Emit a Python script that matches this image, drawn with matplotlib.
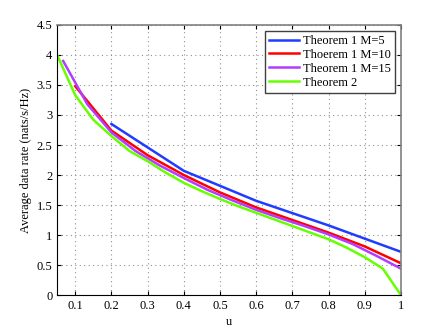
import numpy as np
import matplotlib.pyplot as plt

plt.rcParams['font.family'] = ['Liberation Serif', 'DejaVu Serif']

### Data
u_m5 = [0.2, 0.4, 0.6, 0.8, 1.0]
rate_m5 = [2.85, 2.07, 1.57, 1.16, 0.72]

u_m10 = [0.1, 0.2, 0.3, 0.4, 0.5, 0.6, 0.7, 0.8, 0.9, 1.0]
rate_m10 = [3.48, 2.74, 2.33, 2.00, 1.71, 1.46, 1.25, 1.04, 0.81, 0.53]

u_m15 = [1/15, 2/15, 3/15, 4/15, 5/15, 6/15, 7/15, 8/15, 9/15, 10/15,
         11/15, 12/15, 13/15, 14/15, 1.0]
rate_m15 = [3.90, 3.18, 2.71, 2.40, 2.16, 1.95, 1.75, 1.58, 1.42, 1.28,
            1.15, 1.01, 0.85, 0.65, 0.44]

u_th2 = [0.05, 0.1, 0.15, 0.2, 0.25, 0.3, 0.35, 0.4, 0.45, 0.5,
         0.55, 0.6, 0.65, 0.7, 0.75, 0.8, 0.85, 0.9, 0.95, 1.0]
rate_th2 = [4.0, 3.33, 2.92, 2.65, 2.40, 2.23, 2.04, 1.87, 1.73, 1.60,
            1.48, 1.37, 1.26, 1.15, 1.04, 0.93, 0.79, 0.63, 0.44, 0.0]

labels = ['Theorem 1 M=5', 'Thoerem 1 M=10', 'Theorem 1 M=15', 'Theorem 2']
colors = ['#1f3cff', '#ff0000', '#b23cff', '#66ff00']

### Plot
fig = plt.figure(figsize=(4.43, 3.33), dpi=100)
ax = fig.add_axes([0.129, 0.114, 0.776, 0.811])

ax.plot(u_m5, rate_m5, color=colors[0], lw=1.8, label=labels[0])
ax.plot(u_m10, rate_m10, color=colors[1], lw=1.8, label=labels[1])
ax.plot(u_m15, rate_m15, color=colors[2], lw=1.8, label=labels[2])
ax.plot(u_th2, rate_th2, color=colors[3], lw=1.8, label=labels[3])

ax.set_xlim(0.05, 1.0)
ax.set_ylim(0, 4.5)
ax.set_xticks(np.arange(0.1, 1.01, 0.1))
ax.set_xticklabels(['0.1', '0.2', '0.3', '0.4', '0.5', '0.6', '0.7', '0.8', '0.9', '1'])
ax.set_yticks(np.arange(0, 4.51, 0.5))
ax.set_yticklabels(['0', '0.5', '1', '1.5', '2', '2.5', '3', '3.5', '4', '4.5'])
ax.tick_params(direction='in', top=True, right=True, labelsize=9, length=3)
ax.grid(True, linestyle=(0, (1, 3)), color='#909090', lw=0.8)
for side in ['top', 'right']:
    ax.spines[side].set_color('#808080')
    ax.spines[side].set_linewidth(1.2)
ax.set_xlabel('u', fontsize=9, labelpad=3)
ax.set_ylabel('Average data rate (nats/s/Hz)', fontsize=9, labelpad=3)

leg = ax.legend(loc='upper right', fontsize=9, fancybox=False, framealpha=1,
                edgecolor='#404040', borderaxespad=0.45, handlelength=2.4,
                labelspacing=0.15, borderpad=0.35, handletextpad=0.3)
leg.get_frame().set_linewidth(1.0)

plt.savefig('out.png', dpi=100)
